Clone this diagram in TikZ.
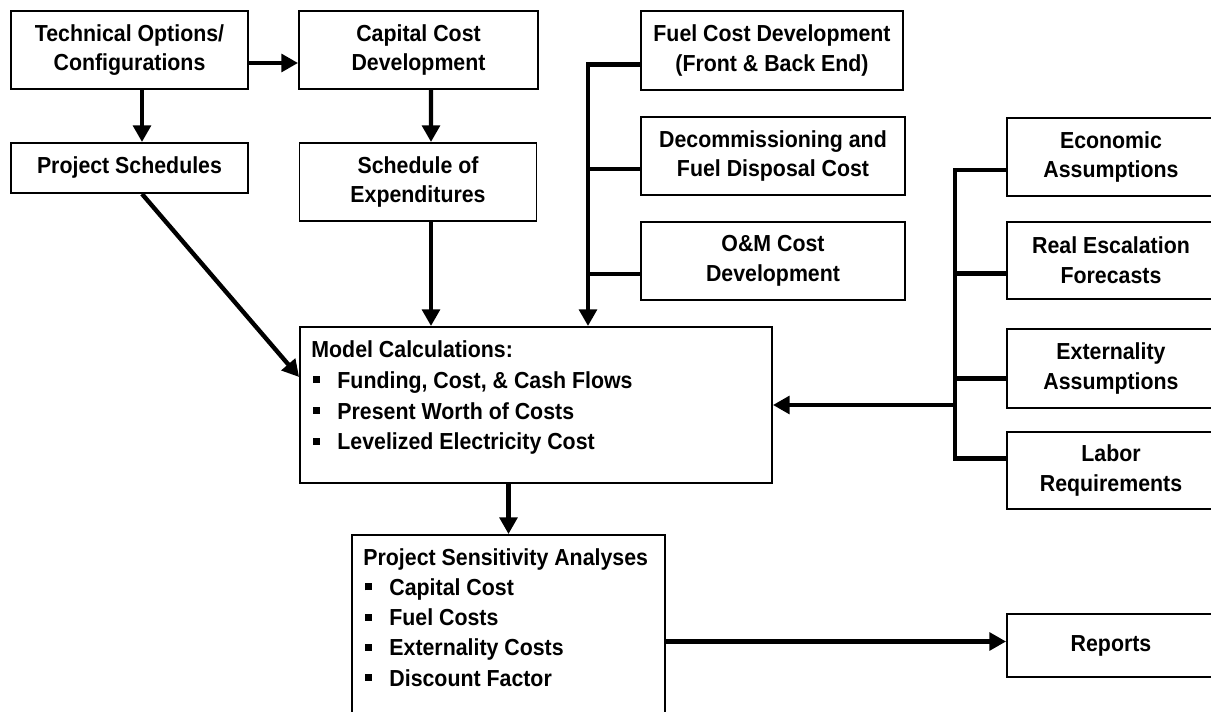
\documentclass[tikz,border=0pt]{standalone}
\usepackage{fontspec}
\setmainfont{Liberation Sans}[FakeStretch=0.92]
\usetikzlibrary{arrows.meta, positioning, calc}
\newcommand{\sqitem}{\hspace*{0.04cm}\makebox[0.48cm][l]{\rule[0.22em]{0.3em}{0.3em}}}

\begin{document}
\begin{tikzpicture}[x=0.02cm, y=-0.02cm,
    box/.style={draw, line width=1.1pt, rectangle, inner sep=0pt, align=center,
        font=\fontsize{13.2pt}{17pt}\selectfont\bfseries},
    wide/.style={minimum width=4.16cm},
    list/.style={inner sep=0pt, align=left, anchor=north west,
        font=\fontsize{13.2pt}{17.6pt}\selectfont\bfseries},
    link/.style={line width=2.5pt},
    arr/.style={link, -{Triangle[length=9.5pt, width=10pt]}}]
    \useasboundingbox (0,0) rectangle (1211,712);
    \clip (0,0) rectangle (1211,712);

    % left side
    \node (tech) [box, minimum width=4.74cm, minimum height=1.56cm] at (129.5,50) {Technical Options/\\Configurations};
    \node (capital) [box, minimum width=4.78cm, minimum height=1.56cm] at (418.5,50) {Capital Cost\\Development};
    \node (sched) [box, minimum width=4.74cm, minimum height=1cm] at (129.5,168) {Project Schedules};
    \node (expend) [box, minimum width=4.74cm, minimum height=1.56cm] at (418,182) {Schedule of\\Expenditures};

    % cost inputs
    \node (fuel) [box, minimum width=5.24cm, minimum height=1.58cm] at (772,50.5) {Fuel Cost Development\\(Front \& Back End)};
    \node (decom) [box, minimum width=5.28cm, minimum height=1.56cm] at (773,156) {Decommissioning and\\Fuel Disposal Cost};
    \node (om) [box, minimum width=5.28cm, minimum height=1.56cm] at (773,261) {O\&M Cost\\Development};

    % assumptions
    \node (econ) [box, wide, minimum height=1.56cm] at (1111,157) {Economic\\Assumptions};
    \node (real) [box, wide, minimum height=1.54cm] at (1111,260.5) {Real Escalation\\Forecasts};
    \node (ext) [box, wide, minimum height=1.58cm] at (1111,368.5) {Externality\\Assumptions};
    \node (labor) [box, wide, minimum height=1.54cm] at (1111,470.5) {Labor\\Requirements};
    \node (reports) [box, wide, minimum height=1.26cm] at (1111,645.5) {Reports};

    % model and sensitivity
    \node (model) [box, minimum width=9.44cm, minimum height=3.12cm] at (536,405) {};
    \node (modeltxt) [list] at ($(model.north west)+(12,14)$) {Model Calculations:\\
        \sqitem Funding, Cost, \& Cash Flows\\
        \sqitem Present Worth of Costs\\
        \sqitem Levelized Electricity Cost};
    \node (sens) [box, minimum width=6.26cm, minimum height=4.2cm] at (508.5,640) {};
    \node (senstxt) [list, font=\fontsize{13.2pt}{17.2pt}\selectfont\bfseries] at ($(sens.north west)+(12,14)$) {Project Sensitivity Analyses\\
        \sqitem Capital Cost\\
        \sqitem Fuel Costs\\
        \sqitem Externality Costs\\
        \sqitem Discount Factor};

    \draw[arr] ($(tech.east)+(0,13)$) -- ($(capital.west)+(0,13)$);
    \draw[arr] ($(tech.south)+(12.5,0)$) -- ($(sched.north)+(12.5,0)$);
    \draw[arr] ($(capital.south)+(12.5,0)$) -- ($(expend.north)+(13,0)$);
    \draw[arr] ($(sched.south)+(12.5,0)$) -- ($(model.west)+(0,-28)$);
    \draw[arr] ($(expend.south)+(13,0)$) -- ($(model.north)+(-105,0)$);

    % fuel bus
    \coordinate (fbus) at (588,274);
    \draw[arr] ($(fuel.west)+(0,14)$) -| ($(model.north)+(52,0)$);
    \draw[link] ($(decom.west)+(0,13)$) -| (fbus);
    \draw[link] ($(om.west)+(0,13)$) -- (fbus);

    % assumptions bus
    \coordinate (rbus) at (955,405);
    \draw[arr] (rbus) -- (model.east);
    \foreach \n/\d in {econ/13, real/13, ext/10, labor/-12}
        \draw[link] ($(\n.west)+(0,\d)$) -| (rbus);

    \draw[arr] (model.south -| sens.north) -- (sens.north);
    \draw[arr] ($(sens.east |- reports.west)+(0,-4)$) -- ($(reports.west)+(0,-4)$);
\end{tikzpicture}
\end{document}
